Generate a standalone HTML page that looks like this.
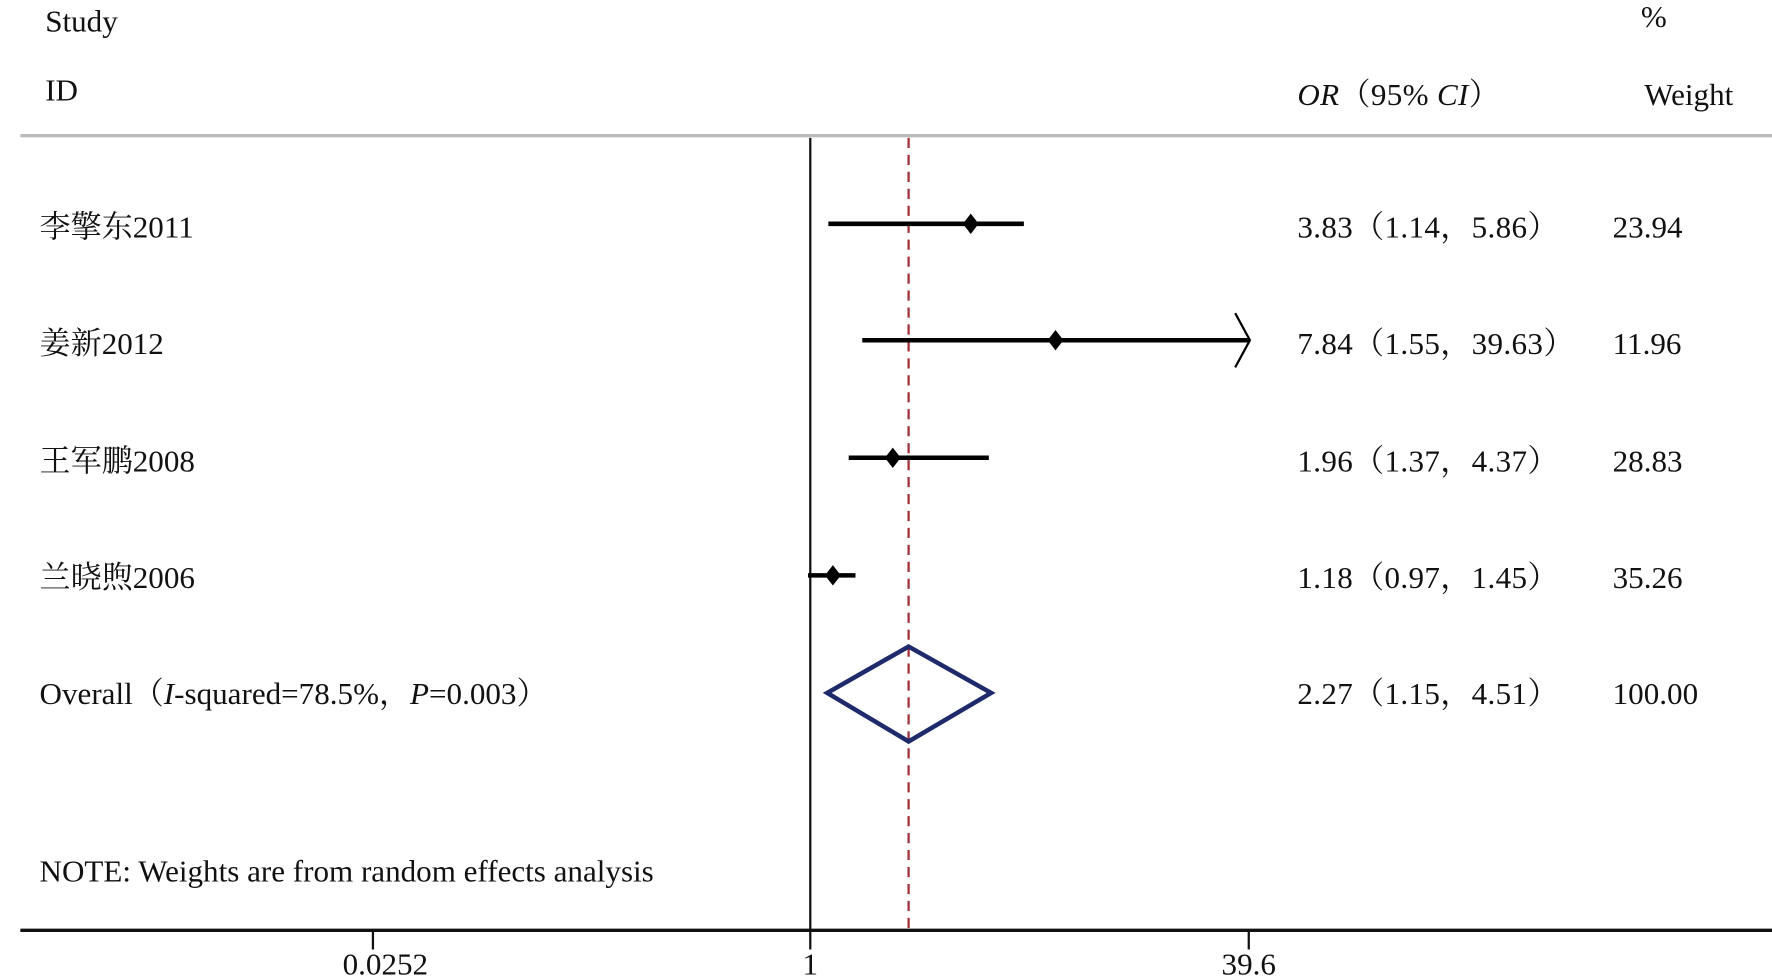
<!DOCTYPE html>
<html><head><meta charset="utf-8"><style>
html,body{margin:0;padding:0;background:#fff;width:1772px;height:980px;overflow:hidden}
svg{display:block}
text{font-family:"Liberation Serif","Noto Serif CJK SC",serif;font-size:27.5px;fill:#111}
.v{letter-spacing:0.3px}
</style></head><body>
<svg width="1772" height="980" viewBox="0 0 1568 867" preserveAspectRatio="none" xmlns="http://www.w3.org/2000/svg">
<text x="40" y="28">Study</text>
<text x="40" y="89">ID</text>
<text x="1452" y="24">%</text>
<text x="1148" y="93" class="v"><tspan font-style="italic">OR</tspan>（95% <tspan font-style="italic">CI</tspan>）</text>
<text x="1455" y="93">Weight</text>
<line x1="18" y1="120" x2="1568" y2="120" stroke="#bbb" stroke-width="3"/>
<line x1="717" y1="122" x2="717" y2="822" stroke="#111" stroke-width="2"/>
<line x1="804" y1="122" x2="804" y2="822" stroke="#a0303a" stroke-width="2" stroke-dasharray="9,6"/>
<line x1="18" y1="823" x2="1568" y2="823" stroke="#111" stroke-width="3"/>
<line x1="330" y1="823" x2="330" y2="840" stroke="#111" stroke-width="2"/>
<line x1="717" y1="823" x2="717" y2="840" stroke="#111" stroke-width="2"/>
<line x1="1105" y1="823" x2="1105" y2="840" stroke="#111" stroke-width="2"/>
<text x="341" y="862" text-anchor="middle">0.0252</text>
<text x="717" y="862" text-anchor="middle">1</text>
<text x="1105" y="862" text-anchor="middle">39.6</text>

<g stroke="#000" stroke-width="4">
<line x1="733" y1="198" x2="906" y2="198"/>
<line x1="763" y1="301" x2="1105" y2="301"/>
<line x1="751" y1="405" x2="875" y2="405"/>
<line x1="715" y1="509" x2="757" y2="509"/>
</g>
<path d="M1093 277 L1106 301 L1093 325" fill="none" stroke="#000" stroke-width="2"/>
<g fill="#000">
<path d="M859 189 L866 198 L859 207 L852 198Z"/>
<path d="M934 292 L941 301 L934 310 L927 301Z"/>
<path d="M790 396 L797 405 L790 414 L783 405Z"/>
<path d="M737 500 L744 509 L737 518 L730 509Z"/>
</g>
<path d="M804 572 L877 613 L804 656 L732 613Z" fill="none" stroke="#1f2a6b" stroke-width="4"/>

<text x="35" y="210">李擎东2011</text>
<text x="35" y="313">姜新2012</text>
<text x="35" y="417">王军鹏2008</text>
<text x="35" y="520">兰晓煦2006</text>
<text x="35" y="623">Overall（<tspan font-style="italic">I</tspan>-squared=78.5%，<tspan font-style="italic">P</tspan>=0.003）</text>
<text x="35" y="780">NOTE: Weights are from random effects analysis</text>

<text x="1148" y="210" class="v">3.83（1.14，5.86）</text>
<text x="1148" y="313" class="v">7.84（1.55，39.63）</text>
<text x="1148" y="417" class="v">1.96（1.37，4.37）</text>
<text x="1148" y="520" class="v">1.18（0.97，1.45）</text>
<text x="1148" y="623" class="v">2.27（1.15，4.51）</text>
<text x="1427" y="210">23.94</text>
<text x="1427" y="313">11.96</text>
<text x="1427" y="417">28.83</text>
<text x="1427" y="520">35.26</text>
<text x="1427" y="623">100.00</text>
</svg>
</body></html>
